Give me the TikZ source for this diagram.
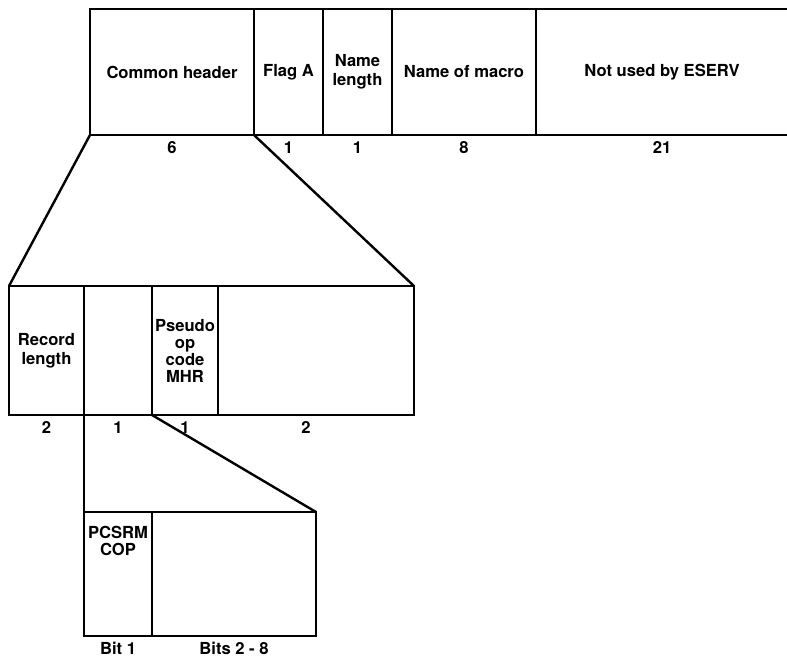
\documentclass[tikz,border=0pt]{standalone}
\usepackage{fontspec}
\setmainfont{TeX Gyre Heros}
\usetikzlibrary{positioning}

\begin{document}
\begin{tikzpicture}[
  x=1pt, y=-1pt,
  every node/.style={font=\fontsize{8.3}{9.5}\selectfont\bfseries},
  fld/.style ={draw, line width=1.2pt, anchor=north west, inner sep=0pt,
               outer sep=0pt, align=center},
  hdr/.style ={fld, minimum height=63pt},
  sub/.style ={fld, minimum height=64.5pt},
  bits/.style={fld, minimum height=62pt},
  num/.style ={inner sep=0pt},
  txt/.style ={inner sep=0pt, align=center},
  zoom/.style={line width=1.2pt}
]
\useasboundingbox (0,0) rectangle (393.5,330);

%% ─── record header ─────────────────────────────────────────────────────────
\node[hdr, minimum width=82pt]   (ch)     at (45,4.5)         {Common header};
\node[hdr, minimum width=34.5pt] (flag)   at (ch.north east)   {Flag A};
\node[hdr, minimum width=34.5pt] (nlen)   at (flag.north east) {Name\\length};
\node[hdr, minimum width=72pt]   (mname)  at (nlen.north east) {Name of macro};
\node[hdr, draw=none, minimum width=126pt]
                                 (unused) at (mname.north east) {Not used by ESERV};
\draw[zoom] (unused.north west) -- (unused.north east);
\draw[zoom] (unused.south west) -- (unused.south east);

%% ─── common header ─────────────────────────────────────────────────────────
\node[sub, minimum width=37.5pt] (reclen) at (4.5,143)          {Record\\length};
\node[sub, minimum width=34pt]   (blank)  at (reclen.north east) {};
\node[sub, minimum width=33pt, font=\fontsize{8.3}{8.5}\selectfont\bfseries]
                                 (pseudo) at (blank.north east)  {Pseudo\\op\\code\\MHR};
\node[sub, minimum width=98pt]   (spare)  at (pseudo.north east) {};

%% ─── flag byte ─────────────────────────────────────────────────────────────
\node[bits, minimum width=34pt]  (pcsrm)  at (42,256)            {};
\node[bits, minimum width=82pt]  (rest)   at (pcsrm.north east)  {};
\node[txt, font=\fontsize{8.3}{8.5}\selectfont\bfseries]
        (pcsrm_t) at ([yshift=16.5pt]pcsrm.center) {PCSRM\\COP};

%% ─── sizes ─────────────────────────────────────────────────────────────────
\foreach \f/\t in {ch/6, flag/1, nlen/1, mname/8, unused/21,
                   reclen/2, blank/1, pseudo/1, pcsrm/Bit 1, rest/Bits 2 - 8}
  \node[num, below=3pt of \f] (\f_n) {\t};
\node[num, below=3pt of spare, xshift=-5pt] (spare_n) {2};

%% ─── expansions ────────────────────────────────────────────────────────────
\draw[zoom] (ch.south west)     -- (reclen.north west);
\draw[zoom] (ch.south east)     -- (spare.north east);
\draw[zoom] (reclen.south east) -- (pcsrm.north west);
\draw[zoom] (blank.south east)  -- (rest.north east);

\end{tikzpicture}
\end{document}
